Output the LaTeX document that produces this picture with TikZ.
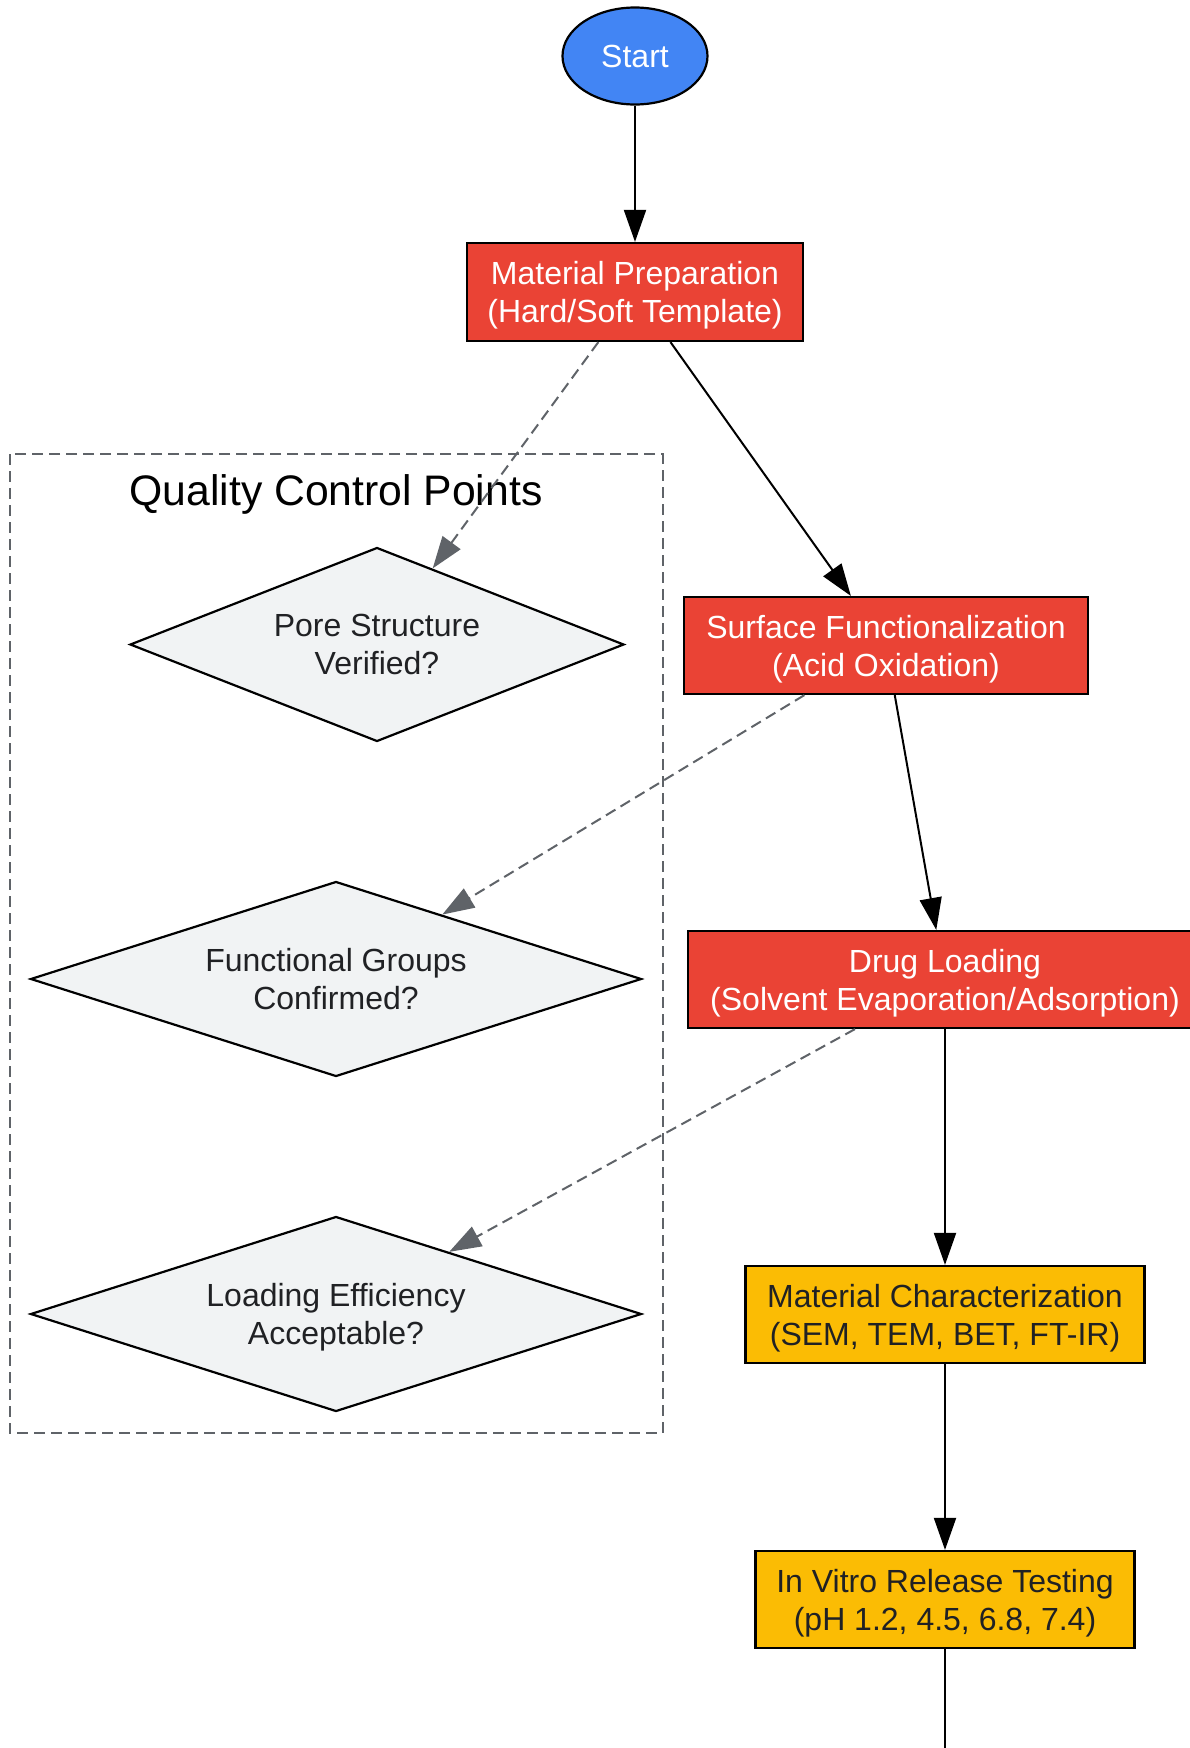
\documentclass[tikz,border=0pt]{standalone}
\usepackage{fontspec}
\setmainfont{Liberation Sans}
\usetikzlibrary{shapes.geometric,arrows.meta}
\definecolor{gblue}{HTML}{4285F4}
\definecolor{gred}{HTML}{EA4335}
\definecolor{gyellow}{HTML}{FBBC04}
\definecolor{ggray}{HTML}{F1F3F4}
\definecolor{gdark}{HTML}{202124}
\definecolor{gline}{HTML}{5F6368}
\newcommand\lastln[1]{\smash{#1}}
\tikzset{
  base/.style={draw=black, line width=2.2pt, inner sep=0pt, align=center,
    font=\fontsize{32}{38}\selectfont},
  redbox/.style={base, rectangle, fill=gred, text=white, minimum height=97pt},
  yelbox/.style={base, rectangle, fill=gyellow, text=gdark, minimum height=97pt},
  startnode/.style={base, ellipse, fill=gblue, text=white},
  qcdiamond/.style={base, diamond, aspect=2.5, fill=ggray, text=gdark},
  edge/.style={line width=2pt, draw=black, -{Triangle[length=32pt,width=22pt]}},
  qcedge/.style={line width=2pt, draw=gline, dash pattern=on 11pt off 6pt,
    -{Triangle[length=32pt,width=22pt,fill=gline]}},
  qcframe/.style={draw=gline, line width=2pt, dash pattern=on 11pt off 6pt},
}
\begin{document}
\begin{tikzpicture}[x=1pt,y=-1pt]
\useasboundingbox (0,0) rectangle (1190,1748);
\clip (0,0) rectangle (1190,1748);
\fill[white] (0,0) rectangle (1190,1748);

% cluster
\draw[qcframe] (10,454) rectangle (662.5,1433);
\node[font=\fontsize{42.7}{50}\selectfont, text=black] (qctitle) at (336,494.5) {Quality Control Points};

% nodes
\node[startnode, minimum width=145pt, minimum height=97pt] (start) at (635,56) {Start};
\node[redbox, minimum width=336pt, minimum height=98pt] (prep) at (635,292) {Material Preparation\\\lastln{(Hard/Soft Template)}};
\node[redbox, minimum width=404.5pt] (surf) at (886,645.5) {Surface Functionalization\\\lastln{(Acid Oxidation)}};
\node[redbox, minimum width=514pt] (drug) at (945,979.5) {Drug Loading\\\lastln{(Solvent Evaporation/Adsorption)}};
\node[yelbox, minimum width=399pt] (charz) at (945,1314.5) {Material Characterization\\\lastln{(SEM, TEM, BET, FT-IR)}};
\node[yelbox, minimum width=379pt] (vitro) at (945,1599.5) {In Vitro Release Testing\\\lastln{(pH 1.2, 4.5, 6.8, 7.4)}};

\node[qcdiamond, minimum width=494pt, minimum height=194pt] (qpore) at (377,644.5) {Pore Structure\\\lastln{Verified?}};
\node[qcdiamond, minimum width=611pt, minimum height=195pt] (qfunc) at (336,979) {Functional Groups\\\lastln{Confirmed?}};
\node[qcdiamond, minimum width=611pt, minimum height=195pt] (qload) at (336,1314) {Loading Efficiency\\\lastln{Acceptable?}};

\coordinate (vend) at (945,1800);

% edges
\draw[edge] (start) -- (prep);
\draw[edge] (prep) -- (surf);
\draw[edge] (surf) -- (drug);
\draw[edge] (drug) -- (charz);
\draw[edge] (charz) -- (vitro);
\draw[edge] (vitro) -- (vend);

\draw[qcedge] (prep) -- (qpore);
\draw[qcedge] (surf) -- (qfunc);
\draw[qcedge] (drug) -- (qload);
\end{tikzpicture}
\end{document}
